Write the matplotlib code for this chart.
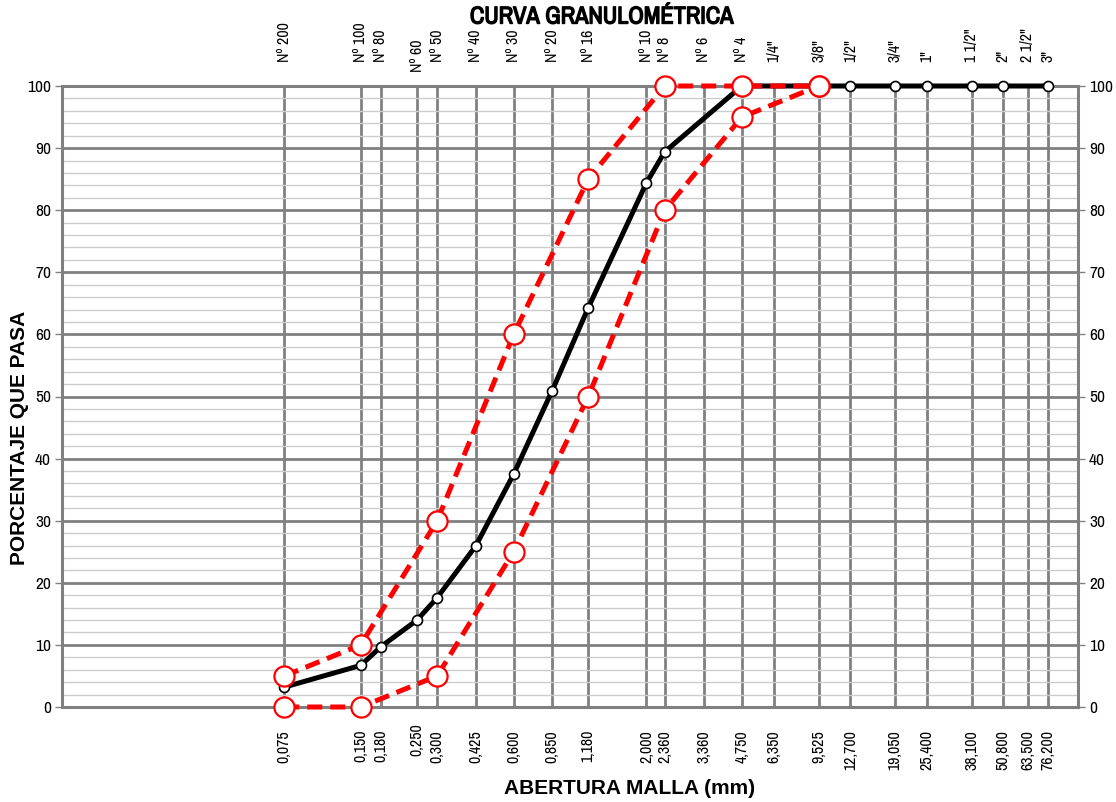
import numpy as np
import matplotlib
matplotlib.use('Agg')
import matplotlib.pyplot as plt
import matplotlib.patheffects as pe
from matplotlib.ticker import NullLocator
from matplotlib.transforms import ScaledTranslation

# Tamices: abertura (mm) y designación
aberturas = [0.075, 0.150, 0.180, 0.250, 0.300, 0.425, 0.600, 0.850, 1.180, 2.000,
             2.360, 3.360, 4.750, 6.350, 9.525, 12.700, 19.050, 25.400, 38.100,
             50.800, 63.500, 76.200]
tamices = ['Nº 200', 'Nº 100', 'Nº 80', 'Nº 60', 'Nº 50', 'Nº 40', 'Nº 30', 'Nº 20',
           'Nº 16', 'Nº 10', 'Nº 8', 'Nº 6', 'Nº 4', '1/4"', '3/8"', '1/2"', '3/4"',
           '1"', '1 1/2"', '2"', '2 1/2"', '3"']
etiquetas_mm = ['0,075', '0,150', '0,180', '0,250', '0,300', '0,425', '0,600', '0,850',
                '1,180', '2,000', '2,360', '3,360', '4,750', '6,350', '9,525', '12,700',
                '19,050', '25,400', '38,100', '50,800', '63,500', '76,200']

# Curva del agregado ensayado
abertura_muestra = [0.075, 0.150, 0.180, 0.250, 0.300, 0.425, 0.600, 0.850, 1.180,
                    2.000, 2.360, 4.750, 9.525, 12.700, 19.050, 25.400, 38.100,
                    50.800, 76.200]
pasa_muestra = [3.2, 6.7, 9.7, 14.0, 17.6, 25.9, 37.5, 50.9, 64.3, 84.4, 89.4,
                100, 100, 100, 100, 100, 100, 100, 100]

# Límites del huso granulométrico
abertura_huso = [0.075, 0.150, 0.300, 0.600, 1.180, 2.360, 4.750, 9.525]
huso_superior = [5, 10, 30, 60, 85, 100, 100, 100]
huso_inferior = [0, 0, 5, 25, 50, 80, 95, 100]

narrow = ['Archivo Narrow', 'Liberation Sans', 'DejaVu Sans']
ancha = ['Liberation Sans', 'DejaVu Sans']
plt.rcParams['font.family'] = narrow

fig = plt.figure(figsize=(11.16, 8.02), dpi=100)
ax = fig.add_axes([62 / 1116, 1 - 707 / 802, (1078 - 62) / 1116, (707 - 86) / 802])

gris = '#808080'

ax.plot(abertura_muestra, pasa_muestra, color='black', lw=3.6, marker='o', ms=7.2,
        mfc='white', mec='black', mew=1.2, zorder=3, clip_on=False)
for serie in (huso_superior, huso_inferior):
    ax.plot(abertura_huso, serie, color='#ff0000', lw=3.6, ls=(0, (3, 1.6)),
            dash_capstyle='butt', marker='o', ms=14.5, mfc='white', mec='#ff0000',
            mew=1.6, zorder=4, clip_on=False)

ax.set_xscale('log')
ax.set_xlim(0.01, 100)
ax.set_ylim(0, 100)
ax.xaxis.set_minor_locator(NullLocator())
ax.set_xticks(aberturas, labels=etiquetas_mm, rotation=90, fontsize=11.5)
ax.tick_params(axis='x', length=0, pad=16.5)

ax.set_yticks(range(0, 101, 10))
ax.set_yticks(range(0, 101, 2), minor=True)
ax.tick_params(axis='y', which='major', length=5, width=1, color=gris, pad=3,
               labelsize=12.5, right=True, labelright=True)
ax.tick_params(axis='y', which='minor', length=0)

ax.set_axisbelow(True)
ax.grid(axis='x', which='major', color=gris, lw=2.0)
ax.grid(axis='y', which='major', color=gris, lw=2.0)
ax.grid(axis='y', which='minor', color='#cccccc', lw=1.0)
for s in ax.spines.values():
    s.set_color(gris)
    s.set_linewidth(2.2)

# Designación de tamices en la parte superior
ax2 = ax.twiny()
ax2.set_xscale('log')
ax2.set_xlim(ax.get_xlim())
ax2.xaxis.set_minor_locator(NullLocator())
ax2.set_xticks(aberturas, labels=tamices, rotation=90, fontsize=11.5)
ax2.tick_params(axis='x', length=0, pad=17)
for s in ax2.spines.values():
    s.set_visible(False)

# etiquetas que se solapan: desplazar un poco
for lab in ax2.get_xticklabels():
    if lab.get_text() == 'Nº 60':
        lab.set_transform(lab.get_transform() + ScaledTranslation(0, -10 / 100, fig.dpi_scale_trans))
for lab in ax.get_xticklabels():
    if lab.get_text() == '0,250':
        lab.set_transform(lab.get_transform() + ScaledTranslation(0, 7 / 100, fig.dpi_scale_trans))

# la fuente estrecha no trae negrita: se engruesa con un trazo
titulo = fig.text(602 / 1116, 1 - 17 / 802, 'CURVA GRANULOMÉTRICA', ha='center',
                  va='center', fontsize=17.5)
titulo.set_path_effects([pe.withStroke(linewidth=1.0, foreground='black')])
fig.text(630 / 1116, 1 - 788 / 802, 'ABERTURA MALLA (mm)', ha='center', va='center',
         fontsize=15, fontweight='bold', family=ancha)
fig.text(20 / 1116, 1 - 438 / 802, 'PORCENTAJE QUE PASA', ha='center', va='center',
         rotation=90, fontsize=15, fontweight='bold', family=ancha)

fig.savefig('out.png', dpi=100)
